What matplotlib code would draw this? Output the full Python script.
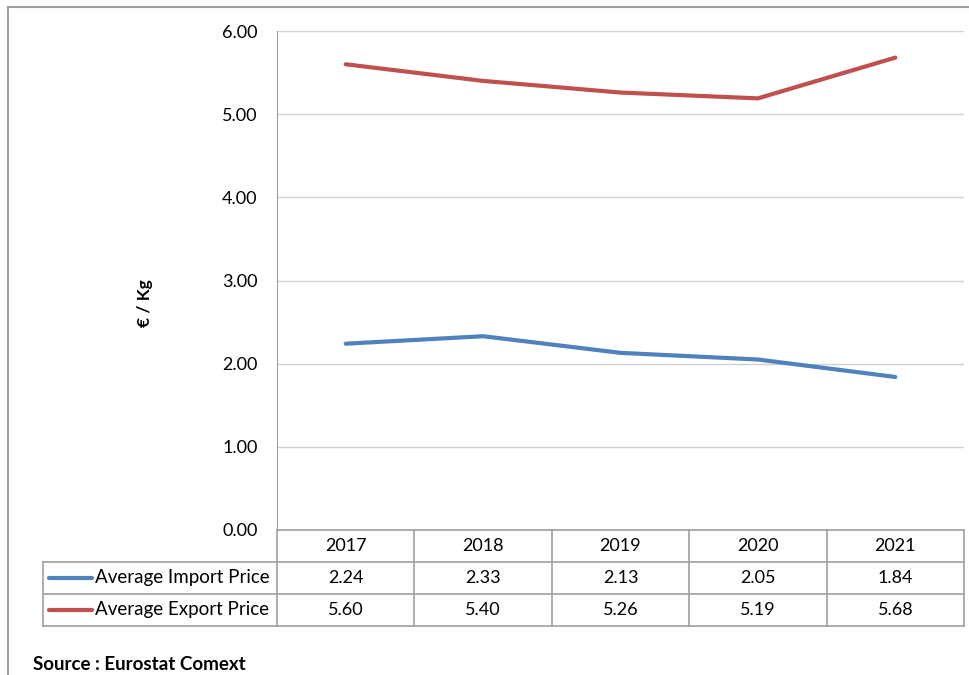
import matplotlib.pyplot as plt
from matplotlib.lines import Line2D

# average prices per kg
years = ['2017', '2018', '2019', '2020', '2021']
import_price = [2.24, 2.33, 2.13, 2.05, 1.84]
export_price = [5.60, 5.40, 5.26, 5.19, 5.68]
series_names = ['Average Import Price', 'Average Export Price']
series_colors = ['#4F81BD', '#C0504D']
y_ticks = [0, 1, 2, 3, 4, 5, 6]

plt.rcParams['font.family'] = ['Lato', 'DejaVu Sans']

W, H = 969, 675
fig = plt.figure(figsize=(W / 100, H / 100), dpi=100)


def fx(x):
    return x / W


def fy(y):
    return 1 - y / H


# plot area in pixel coords
left, right, top, bottom = 277, 964, 31, 530
ax = fig.add_axes([fx(left), fy(bottom), fx(right) - fx(left), fy(top) - fy(bottom)])

xs = range(len(years))
for vals, c in zip([import_price, export_price], series_colors):
    ax.plot(xs, vals, color=c, lw=3.0, solid_capstyle='round', zorder=3)

ax.set_xlim(-0.5, len(years) - 0.5)
ax.set_ylim(0, 6)
ax.set_yticks(y_ticks)
ax.set_yticklabels(['%.2f' % t for t in y_ticks], fontsize=13)
ax.set_xticks([])
ax.grid(axis='y', color='#D0D0D0', lw=1)
ax.set_axisbelow(True)
for s in ['top', 'right', 'bottom']:
    ax.spines[s].set_visible(False)
ax.spines['left'].set_color('#A0A0A0')
ax.tick_params(axis='y', length=0, pad=14)

fig.text(fx(145), fy(303), '€ / Kg', rotation=90, ha='center', va='center',
         fontsize=12.5, fontweight='bold')

# data table under the plot
gray = '#A0A0A0'
row_y = [530, 562, 594, 626]
col_w = (right - left) / len(years)
col_x = [left + i * col_w for i in range(len(years) + 1)]
tab_left = 43


def hline(y, x0, x1):
    fig.add_artist(Line2D([fx(x0), fx(x1)], [fy(y), fy(y)], color=gray, lw=1.2))


def vline(x, y0, y1):
    fig.add_artist(Line2D([fx(x), fx(x)], [fy(y0), fy(y1)], color=gray, lw=1.2))


hline(row_y[0], left, right)
for y in row_y[1:]:
    hline(y, tab_left, right)
vline(tab_left, row_y[1], row_y[3])
for x in col_x:
    vline(x, row_y[0], row_y[3])

for i, yr in enumerate(years):
    cx = (col_x[i] + col_x[i + 1]) / 2
    fig.text(fx(cx), fy((row_y[0] + row_y[1]) / 2), yr, ha='center', va='center', fontsize=13)
    for r, vals in enumerate([import_price, export_price]):
        cy = (row_y[r + 1] + row_y[r + 2]) / 2
        fig.text(fx(cx), fy(cy), '%.2f' % vals[i], ha='center', va='center', fontsize=13)

for r, (name, c) in enumerate(zip(series_names, series_colors)):
    cy = (row_y[r + 1] + row_y[r + 2]) / 2
    fig.add_artist(Line2D([fx(49), fx(92)], [fy(cy), fy(cy)], color=c, lw=3.0,
                          solid_capstyle='round'))
    fig.text(fx(95), fy(cy), name, ha='left', va='center', fontsize=13.5)

# outer chart frame
fig.add_artist(Line2D([fx(8), fx(969)], [fy(7), fy(7)], color=gray, lw=1.5))
fig.add_artist(Line2D([fx(8), fx(8)], [fy(7), fy(675)], color=gray, lw=1.5))

fig.text(fx(33), fy(665), 'Source : Eurostat Comext', ha='left', va='center',
         fontsize=13.5, fontweight='bold')

fig.savefig('out.png', dpi=100)
